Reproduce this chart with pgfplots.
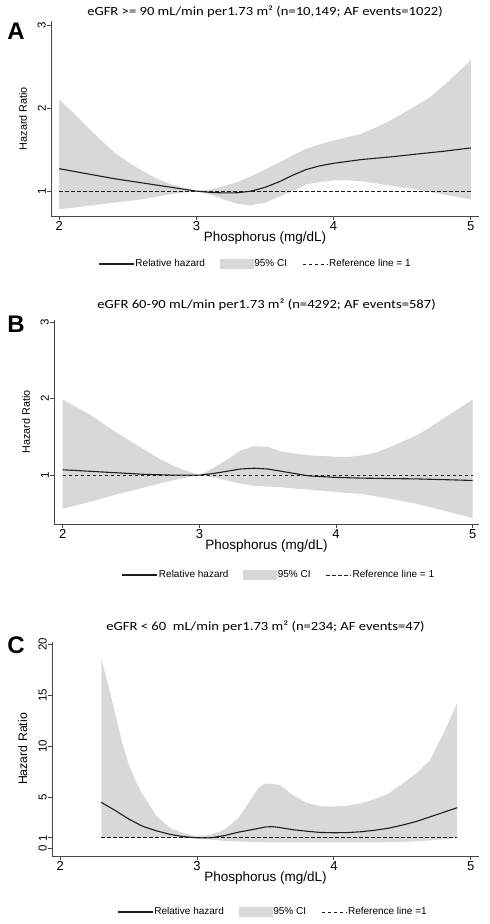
\documentclass[border=0pt]{standalone}
\usepackage{fontspec}
\setmainfont{Liberation Sans}
\newfontfamily\titlefont{Carlito}
\usepackage{pgfplots}
\pgfplotsset{compat=1.18}
\usepgfplotslibrary{fillbetween}

\definecolor{cigray}{RGB}{216,216,216}
\definecolor{axgray}{RGB}{70,70,70}
\definecolor{hrline}{RGB}{30,30,30}

\pgfplotsset{
  panel/.style={
    scale only axis,
    anchor=south west,
    axis x line=bottom, axis y line=left,
    axis line style={-, axgray, line width=1pt},
    major tick style={axgray, line width=0.9pt},
    major tick length=4pt,
    tick align=outside,
    /pgf/number format/assume math mode=true,
    xtick={2,3,4,5},
    x tick label style={font=\fontsize{13}{13}\selectfont, inner sep=1pt},
    yticklabel style={rotate=90, anchor=south, font=\fontsize{11.5}{11.5}\selectfont, inner sep=1pt},
    xlabel={Phosphorus (mg/dL)},
    ylabel={Hazard Ratio},
    every axis x label/.style={at={(axis description cs:0.5,0)}, anchor=center, yshift=-22pt, font=\fontsize{13.5}{13.5}\selectfont},
    every axis title/.style={at={(axis description cs:0.5,1)}, anchor=center, xscale=1.17, font=\titlefont\fontsize{12.5}{12.5}\selectfont},
    legend columns=3,
    legend cell align=left,
    legend style={draw=none, fill=none, anchor=center, font=\fontsize{10}{10}\selectfont,
      nodes={inner sep=1pt},
      /tikz/every even column/.append style={column sep=14pt}},
    clip=false,
  },
  hrimg/.style={legend image code/.code={\draw[hrline, line width=1.1pt] (0pt,0pt) -- (35pt,0pt);}},
  ciimg/.style={legend image code/.code={\fill[cigray] (0pt,-4.5pt) rectangle (33pt,4.5pt);}},
  refimg/.style={legend image code/.code={\draw[hrline, line width=1pt, dash pattern=on 3.5pt off 2.5pt] (0pt,0pt) -- (25pt,0pt);}},
}

\begin{document}
\begin{tikzpicture}

% ---------------- Panel A ----------------
\begin{axis}[panel,
  at={(51pt,-216pt)}, width=428pt, height=195pt,
  xmin=1.94, xmax=5.06, ymin=0.70, ymax=3.05,
  ytick={1,2,3},
  title={eGFR >= 90 mL/min per1.73 m² (n=10,149; AF events=1022)},
  title style={yshift=9pt},
  every axis y label/.style={at={(axis description cs:-0.0654,0.5)}, rotate=90, anchor=center, font=\fontsize{10.8}{10.8}\selectfont},
  legend style={at={(axis description cs:0.5,0)}, xshift=-10pt, yshift=-48pt},
]
\addlegendimage{hrimg}\addlegendentry{Relative hazard}
\addlegendimage{ciimg}\addlegendentry{95\% CI}
\addlegendimage{refimg}\addlegendentry{Reference line = 1}
\addplot[name path=Aup, draw=none, forget plot] coordinates {
(2.0,2.10) (2.1,1.95) (2.2,1.78) (2.3,1.62) (2.4,1.47) (2.5,1.35) (2.6,1.25) (2.7,1.16) (2.8,1.09) (2.9,1.04) (3.0,1.00)
(3.1,1.02) (3.2,1.06) (3.3,1.11) (3.4,1.18) (3.5,1.26) (3.6,1.34) (3.7,1.43) (3.8,1.51) (3.9,1.565) (4.0,1.61)
(4.1,1.65) (4.2,1.69) (4.3,1.76) (4.4,1.84) (4.5,1.93) (4.6,2.03) (4.7,2.13) (4.8,2.27) (4.9,2.42) (5.0,2.58)};
\addplot[name path=Alo, draw=none, forget plot] coordinates {
(2.0,0.78) (2.2,0.82) (2.4,0.86) (2.6,0.90) (2.8,0.96) (2.9,0.98) (3.0,1.00)
(3.1,0.96) (3.2,0.90) (3.3,0.845) (3.4,0.83) (3.5,0.86) (3.6,0.93) (3.7,1.00) (3.8,1.08) (3.9,1.11) (4.0,1.13)
(4.1,1.13) (4.2,1.12) (4.4,1.07) (4.6,1.02) (4.8,0.96) (5.0,0.90)};
\addplot[cigray, forget plot] fill between[of=Aup and Alo];
\addplot[hrline, line width=1pt, dash pattern=on 3.5pt off 2.5pt, forget plot] coordinates {(2,1) (5,1)};
\addplot[hrline, line width=1.1pt, forget plot] coordinates {
(2.0,1.27) (2.2,1.21) (2.4,1.15) (2.6,1.10) (2.8,1.05) (3.0,1.00) (3.1,0.985) (3.2,0.978) (3.3,0.98) (3.4,1.00)
(3.5,1.045) (3.6,1.11) (3.7,1.19) (3.8,1.26) (3.9,1.305) (4.0,1.335) (4.2,1.38) (4.4,1.41) (4.6,1.445) (4.8,1.48) (5.0,1.52)};
\end{axis}
\node[font=\bfseries\fontsize{24}{24}\selectfont] at (16pt,-31pt) {A};

% ---------------- Panel B ----------------
\begin{axis}[panel,
  at={(54pt,-524pt)}, width=425pt, height=204pt,
  xmin=1.936, xmax=5.046, ymin=0.36, ymax=3.03,
  ytick={1,2,3},
  title={eGFR 60-90 mL/min per1.73 m² (n=4292; AF events=587)},
  title style={yshift=15pt},
  every axis y label/.style={at={(axis description cs:-0.0659,0.5)}, rotate=90, anchor=center, font=\fontsize{10.8}{10.8}\selectfont},
  legend style={at={(axis description cs:0.5,0)}, xshift=12pt, yshift=-51pt},
]
\addlegendimage{hrimg}\addlegendentry{Relative hazard}
\addlegendimage{ciimg}\addlegendentry{95\% CI}
\addlegendimage{refimg}\addlegendentry{Reference line = 1}
\addplot[name path=Bup, draw=none, forget plot] coordinates {
(2.0,1.99) (2.1,1.89) (2.2,1.79) (2.3,1.67) (2.4,1.55) (2.5,1.44) (2.6,1.33) (2.7,1.22) (2.8,1.13) (2.9,1.06) (3.0,1.00)
(3.1,1.09) (3.2,1.20) (3.3,1.32) (3.4,1.38) (3.5,1.37) (3.6,1.31) (3.7,1.28) (3.8,1.26) (3.9,1.25) (4.0,1.24)
(4.1,1.24) (4.2,1.26) (4.3,1.30) (4.4,1.37) (4.5,1.45) (4.6,1.53) (4.7,1.64) (4.8,1.76) (4.9,1.87) (5.0,1.99)};
\addplot[name path=Blo, draw=none, forget plot] coordinates {
(2.0,0.56) (2.2,0.65) (2.4,0.75) (2.6,0.84) (2.8,0.93) (3.0,1.00) (3.1,0.97) (3.2,0.93) (3.3,0.89) (3.4,0.86)
(3.6,0.84) (3.8,0.81) (4.0,0.78) (4.2,0.75) (4.4,0.69) (4.6,0.62) (4.8,0.53) (5.0,0.44)};
\addplot[cigray, forget plot] fill between[of=Bup and Blo];
\addplot[hrline, line width=1pt, dash pattern=on 3.5pt off 2.5pt, forget plot] coordinates {(2,1) (5,1)};
\addplot[hrline, line width=1.1pt, forget plot] coordinates {
(2.0,1.07) (2.2,1.05) (2.4,1.03) (2.6,1.01) (2.8,1.00) (3.0,1.00) (3.1,1.02) (3.2,1.05) (3.3,1.08) (3.4,1.09)
(3.5,1.08) (3.6,1.05) (3.7,1.02) (3.8,0.99) (3.9,0.98) (4.0,0.97) (4.2,0.96) (4.4,0.955) (4.6,0.95) (4.8,0.94) (5.0,0.93)};
\end{axis}
\node[font=\bfseries\fontsize{24}{24}\selectfont] at (16pt,-324pt) {B};

% ---------------- Panel C ----------------
\begin{axis}[panel,
  at={(52pt,-856pt)}, width=427pt, height=214pt,
  xmin=1.94, xmax=5.06, ymin=-0.78, ymax=20.2,
  ytick={0,1,5,10,15,20},
  title={eGFR < 60\ \ mL/min per1.73 m² (n=234; AF events=47)},
  title style={yshift=15pt},
  every axis y label/.style={at={(axis description cs:-0.0686,0.5)}, rotate=90, anchor=center, font=\fontsize{12.3}{12.3}\selectfont},
  legend style={at={(axis description cs:0.5,0)}, xshift=7pt, yshift=-56pt},
]
\addlegendimage{hrimg}\addlegendentry{Relative hazard}
\addlegendimage{ciimg}\addlegendentry{95\% CI}
\addlegendimage{refimg}\addlegendentry{Reference line =1}
\addplot[name path=Cup, draw=none, forget plot] coordinates {
(2.3,18.6) (2.35,16.0) (2.4,13.3) (2.45,10.5) (2.5,8.2) (2.55,6.6) (2.6,5.3) (2.7,3.2) (2.8,2.0) (2.9,1.45) (3.0,1.15)
(3.1,1.3) (3.2,1.8) (3.3,2.9) (3.4,4.9) (3.45,5.9) (3.5,6.35) (3.6,6.2) (3.7,5.2) (3.8,4.45) (3.9,4.1) (4.0,4.05)
(4.1,4.15) (4.2,4.4) (4.3,4.8) (4.4,5.35) (4.5,6.3) (4.6,7.3) (4.7,8.6) (4.8,11.2) (4.9,14.2)};
\addplot[name path=Clo, draw=none, forget plot] coordinates {
(2.3,1.1) (2.5,1.1) (2.8,1.05) (3.0,0.95) (3.1,0.85) (3.2,0.7) (3.4,0.6) (3.6,0.55) (3.8,0.55) (4.0,0.55)
(4.2,0.55) (4.4,0.58) (4.6,0.65) (4.8,0.85) (4.9,0.95)};
\addplot[cigray, forget plot] fill between[of=Cup and Clo];
\addplot[hrline, line width=1pt, dash pattern=on 3.5pt off 2.5pt, forget plot] coordinates {(2.3,1) (4.9,1)};
\addplot[hrline, line width=1.1pt, forget plot] coordinates {
(2.3,4.48) (2.4,3.7) (2.5,2.85) (2.6,2.15) (2.7,1.7) (2.8,1.35) (2.9,1.12) (3.0,1.0) (3.1,1.0) (3.2,1.22)
(3.3,1.55) (3.4,1.8) (3.5,2.07) (3.55,2.1) (3.6,2.02) (3.7,1.8) (3.8,1.65) (3.9,1.53) (4.0,1.5) (4.1,1.52) (4.2,1.6)
(4.3,1.75) (4.4,1.95) (4.5,2.25) (4.6,2.6) (4.7,3.05) (4.8,3.5) (4.9,3.95)};
\end{axis}
\node[font=\bfseries\fontsize{24}{24}\selectfont] at (16pt,-645pt) {C};
\path (0pt,0pt) rectangle (490pt,-924pt);
\end{tikzpicture}
\end{document}
